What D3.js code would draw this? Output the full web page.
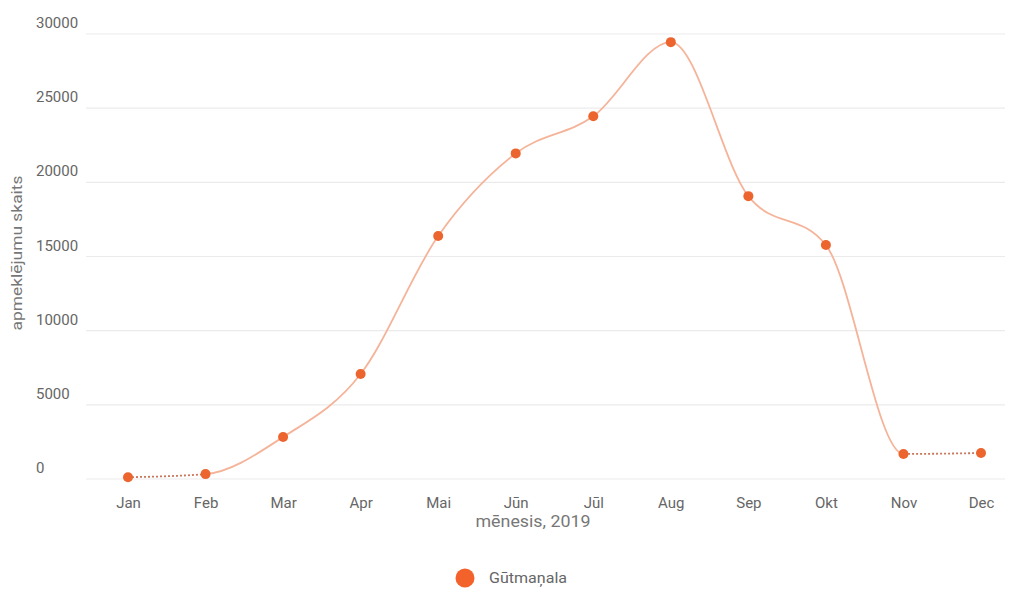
<!DOCTYPE html>
<html><head><meta charset="utf-8">
<script src="https://cdn.jsdelivr.net/npm/d3@7"></script>
<style>
body{margin:0;background:#fff;}
text{font-family:Roboto,"Noto Sans",sans-serif;}
</style></head>
<body>
<svg id="c" width="1011" height="590"></svg>
<script>
const months = ["Jan","Feb","Mar","Apr","Mai","Jūn","Jūl","Aug","Sep","Okt","Nov","Dec"];
const visits = [120, 330, 2830, 7080, 16380, 21950, 24450, 29450, 19070, 15770, 1690, 1750];
const yTicks = [0, 5000, 10000, 15000, 20000, 25000, 30000];
const seriesName = "Gūtmaņala";
const xTitle = "mēnesis, 2019";
const yTitle = "apmeklējumu skaits";

const svg = d3.select("#c");
const x = d3.scalePoint().domain(months).range([128, 981]);
const y = d3.scaleLinear().domain([0, 30000]).range([479, 34]);

// grid
svg.append("g").selectAll("line").data(yTicks).join("line")
  .attr("x1", 86).attr("x2", 1005)
  .attr("y1", d => y(d)).attr("y2", d => y(d))
  .attr("stroke", "#ebebeb").attr("stroke-width", 1.2);

// y labels
svg.append("g").selectAll("text").data(yTicks).join("text")
  .attr("x", 36).attr("y", d => y(d) - 6)
  .attr("font-size", 15).attr("fill", "#666")
  .text(d => d);

// x labels
const xAxis = d3.axisBottom(x).tickSize(0).tickPadding(0);
const gx = svg.append("g").attr("transform", "translate(0,497)").call(xAxis);
gx.select(".domain").remove();
gx.selectAll("text").attr("font-size", 15).attr("fill", "#666")
  .attr("font-family", "Roboto,'Noto Sans',sans-serif");

// titles
svg.append("text").attr("x", 533).attr("y", 527).attr("text-anchor", "middle")
  .attr("font-size", 16).attr("fill", "#777")
  .attr("textLength", 115).attr("lengthAdjust", "spacingAndGlyphs").text(xTitle);
svg.append("text").attr("transform", "translate(22,253) rotate(-90)")
  .attr("text-anchor", "middle").attr("font-size", 14.5).attr("fill", "#777")
  .attr("textLength", 155).attr("lengthAdjust", "spacingAndGlyphs").text(yTitle);

// clip regions
const defs = svg.append("defs");
defs.append("clipPath").attr("id", "solid").append("rect")
  .attr("x", x("Feb")).attr("y", 0).attr("width", x("Nov") - x("Feb")).attr("height", 590);
const dc = defs.append("clipPath").attr("id", "dotted");
dc.append("rect").attr("x", 0).attr("y", 0).attr("width", x("Feb")).attr("height", 590);
dc.append("rect").attr("x", x("Nov")).attr("y", 0).attr("width", 1011 - x("Nov")).attr("height", 590);

const data = months.map((m, i) => ({m, v: visits[i]}));
const line = d3.line().x(d => x(d.m)).y(d => y(d.v)).curve(d3.curveMonotoneX);

svg.append("path").datum(data).attr("d", line).attr("clip-path", "url(#solid)")
  .attr("fill", "none").attr("stroke", "#f5b49a").attr("stroke-width", 1.8);
svg.append("path").datum(data).attr("d", line).attr("clip-path", "url(#dotted)")
  .attr("fill", "none").attr("stroke", "#c9765a").attr("stroke-width", 1.8)
  .attr("stroke-dasharray", "2,2");

svg.append("g").selectAll("circle").data(data).join("circle")
  .attr("cx", d => x(d.m)).attr("cy", d => y(d.v)).attr("r", 5)
  .attr("fill", "#ec642e");

// legend
svg.append("circle").attr("cx", 465).attr("cy", 578).attr("r", 9.5).attr("fill", "#f4622b");
svg.append("text").attr("x", 489).attr("y", 583).attr("font-size", 14)
  .attr("fill", "#666").attr("textLength", 78).attr("lengthAdjust", "spacingAndGlyphs")
  .text(seriesName);
</script>
</body></html>
